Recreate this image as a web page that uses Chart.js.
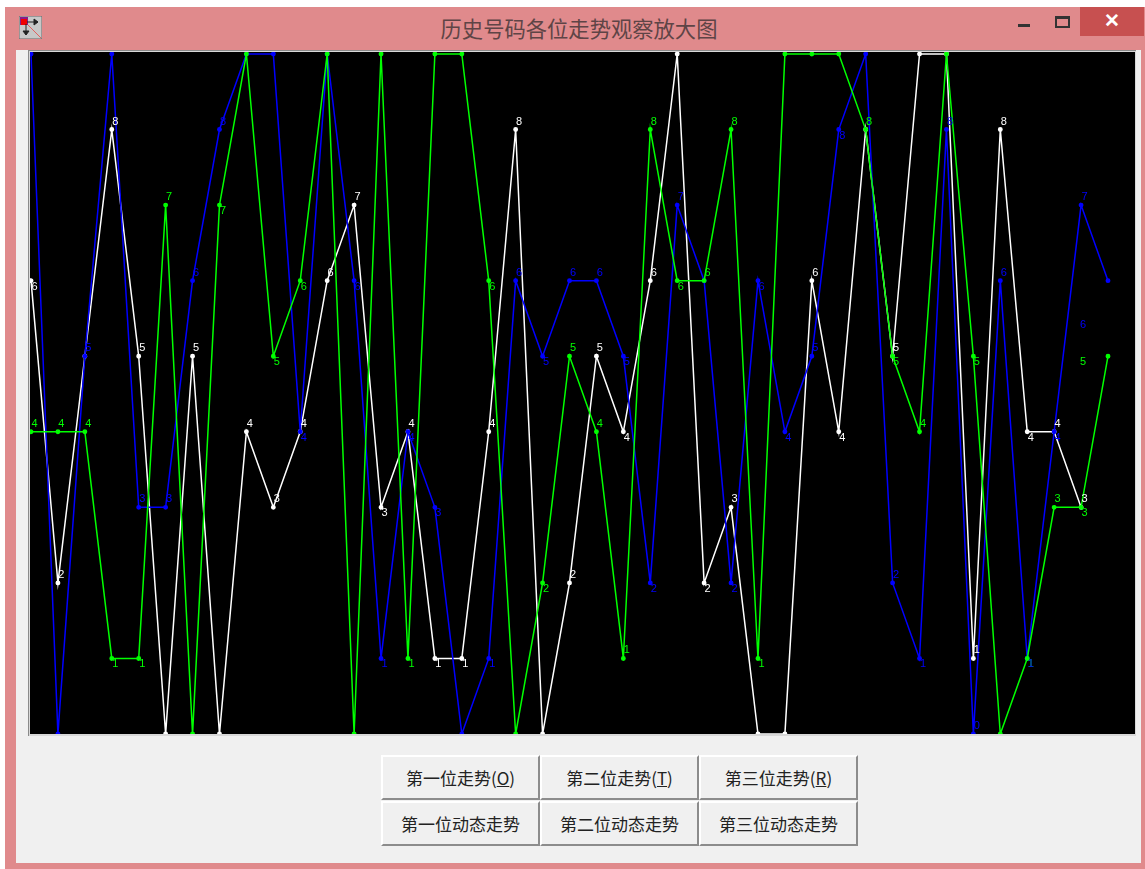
<!DOCTYPE html>
<html lang="zh-CN">
<head>
<meta charset="UTF-8">
<title>历史号码各位走势观察放大图</title>
<script src="https://cdn.jsdelivr.net/npm/chart.js@4"></script>
<style>
  html, body { margin: 0; padding: 0; background: #fff; overflow: hidden; }
  body { width: 1145px; height: 869px; position: relative; font-family: "Noto Sans CJK SC", sans-serif; }
  #frame { position: absolute; left: 5px; top: 7px; width: 1140px; height: 862px; background: #e08a8c; }
  #closeBtn { position: absolute; left: 1080px; top: 7px; width: 64px; height: 29px; background: #c75050; color: #fff; font: 700 19px/28px "Liberation Sans", sans-serif; text-align: center; }
  #minBtn { position: absolute; left: 1018px; top: 24px; width: 12px; height: 3px; background: #333; }
  #maxBtn { position: absolute; left: 1055px; top: 16px; width: 11px; height: 7px; border: 2px solid #333; border-top-width: 3px; }
  #title { position: absolute; left: 300px; width: 558px; top: 13px; text-align: center; font-size: 21.3px; line-height: 30px; color: #5e4446; }
  #icon { position: absolute; left: 19px; top: 16px; }
  #client { position: absolute; left: 16px; top: 50px; width: 1125px; height: 813px; background: #f0f0f0; }
  #plot { position: absolute; left: 28px; top: 50px; width: 1108px; height: 686px; background: #8a8a8a; }
  #plotEdge { position: absolute; left: 29px; top: 51px; width: 1107px; height: 685px; background: #d8d8d8; }
  #trendChart { position: absolute; left: 30px; top: 52px; display: block; }
  .btn { position: absolute; width: 159px; height: 45px; box-sizing: border-box; background: #f0f0f0; color: #222; font-size: 17px; line-height: 41px; text-align: center; white-space: nowrap;
         border-top: 2px solid #fff; border-left: 2px solid #fff; border-right: 2px solid #8c8c8c; border-bottom: 2px solid #8c8c8c; }
</style>
</head>
<body>
<div id="frame"></div>
<svg id="icon" width="23" height="23" viewBox="0 0 23 23">
  <rect width="23" height="23" fill="#c8c8c8" stroke="#666"/>
  <rect x="1" y="1" width="8" height="8" fill="#8a1a8a"/>
  <rect x="2" y="3" width="6" height="6" fill="#f00000"/>
  <path d="M8 6H19M19 6l-4 -3v6zM7 8V19M7 19l-3 -4h6z" stroke="#222" fill="#222"/>
  <path d="M9 9L22 22" stroke="#e06060"/>
</svg>
<div id="title">历史号码各位走势观察放大图</div>
<div id="minBtn"></div>
<div id="maxBtn"></div>
<div id="closeBtn">✕</div>
<div id="client"></div>
<div id="plot"></div>
<div id="plotEdge"></div>
<canvas id="trendChart" width="1105" height="682"></canvas>

<div class="btn" style="left:381px;top:755px">第一位走势(<u>O</u>)</div>
<div class="btn" style="left:540px;top:755px">第二位走势(<u>T</u>)</div>
<div class="btn" style="left:699px;top:755px">第三位走势(<u>R</u>)</div>
<div class="btn" style="left:381px;top:801px">第一位动态走势</div>
<div class="btn" style="left:540px;top:801px">第二位动态走势</div>
<div class="btn" style="left:699px;top:801px">第三位动态走势</div>

<script>
// 期号（41期）
const periods = [
  1, 2, 3, 4, 5, 6, 7, 8, 9, 10, 11, 12, 13, 14, 15, 16, 17, 18, 19, 20, 21,
  22, 23, 24, 25, 26, 27, 28, 29, 30, 31, 32, 33, 34, 35, 36, 37, 38, 39, 40, 41,
];

// 各位号码
const whiteValues = [
  6, 2, 5, 8, 5, 0, 5, 0, 4, 3, 4, 6, 7, 3, 4, 1, 1, 4, 8, 0, 2,
  5, 4, 6, 9, 2, 3, 0, 0, 6, 4, 8, 5, 9, 9, 1, 8, 4, 4, 3, null,
];
const greenValues = [
  4, 4, 4, 1, 1, 7, 0, 7, 9, 5, 6, 9, 0, 9, 1, 9, 9, 6, 0, 2, 5,
  4, 1, 8, 6, 6, 8, 1, 9, 9, 9, 8, 5, 4, 9, 5, 0, 1, 3, 3, 5,
];
const blueValues = [
  9, 0, 5, 9, 3, 3, 6, 8, 9, 9, 4, 9, 6, 1, 4, 3, 0, 1, 6, 5, 6,
  6, 5, 2, 7, 6, 2, 6, 4, 5, 8, 9, 2, 1, 8, 0, 6, 1, 4, 7, 6,
];

// 数字标注的位置：a 点上方，b 点下方，- 不显示，e 末尾标注（每10期一段）
const whiteLabelSides = "ba-aa-a-aa" + "aaababbaa-" + "aaba-ba--a" + "b-a--aabaa-";
const greenLabelSides = "aaabba-b-b" + "b---b--b-b" + "aaaabaab--" + "-aba-b-babe";
const blueLabelSides = "--a-aaaa--" + "b-bbbb-bab" + "aabba-bbba" + "b-abaaabbae";

// 末尾一点的数字标注偏移
const greenEndOffset = { x: -25, y: 6 };
const blueEndOffset = { x: -25, y: 44 };

// 折线图上的数字标注
const valueLabelPlugin = {
  id: "valueLabels",
  afterDatasetsDraw(chart) {
    const ctx = chart.ctx;
    ctx.save();
    ctx.font = "11px 'Liberation Sans', sans-serif";
    ctx.textAlign = "center";
    ctx.textBaseline = "middle";
    chart.data.datasets.forEach((ds, d) => {
      const meta = chart.getDatasetMeta(d);
      ctx.fillStyle = ds.borderColor;
      ds.data.forEach((v, i) => {
        const side = ds.labelSides[i];
        if (v === null || side === "-") return;
        const p = meta.data[i];
        let x = p.x + 3.5;
        let y = p.y + (side === "a" ? -8 : 6);
        if (side === "e") {
          x = p.x + ds.endOffset.x;
          y = p.y + ds.endOffset.y;
        }
        ctx.fillText(String(v), x, y);
      });
    });
    ctx.restore();
  },
};

function makeDataset(data, color, sides, endOffset, order) {
  return {
    data: data,
    borderColor: color,
    backgroundColor: color,
    borderWidth: 1.5,
    pointRadius: 1.7,
    pointHoverRadius: 1.7,
    tension: 0,
    clip: false,
    order: order,
    labelSides: sides,
    endOffset: endOffset,
  };
}

const ctx = document.getElementById("trendChart").getContext("2d");
new Chart(ctx, {
  type: "line",
  data: {
    labels: periods,
    datasets: [
      makeDataset(whiteValues, "#ffffff", whiteLabelSides, null, 3),
      makeDataset(greenValues, "#00ff00", greenLabelSides, greenEndOffset, 1),
      makeDataset(blueValues, "#0000ff", blueLabelSides, blueEndOffset, 2),
    ],
  },
  options: {
    responsive: false,
    animation: false,
    devicePixelRatio: 1,
    layout: { autoPadding: false, padding: { left: 1, right: 27, top: 2, bottom: 0 } },
    plugins: {
      legend: { display: false },
      tooltip: { enabled: false },
    },
    scales: {
      x: { display: false, offset: false },
      y: { display: false, min: 0, max: 9 },
    },
  },
  plugins: [
    {
      id: "blackBackground",
      beforeDraw(chart) {
        chart.ctx.save();
        chart.ctx.fillStyle = "#000";
        chart.ctx.fillRect(0, 0, chart.width, chart.height);
        chart.ctx.restore();
      },
    },
    valueLabelPlugin,
  ],
});
</script>
</body>
</html>
